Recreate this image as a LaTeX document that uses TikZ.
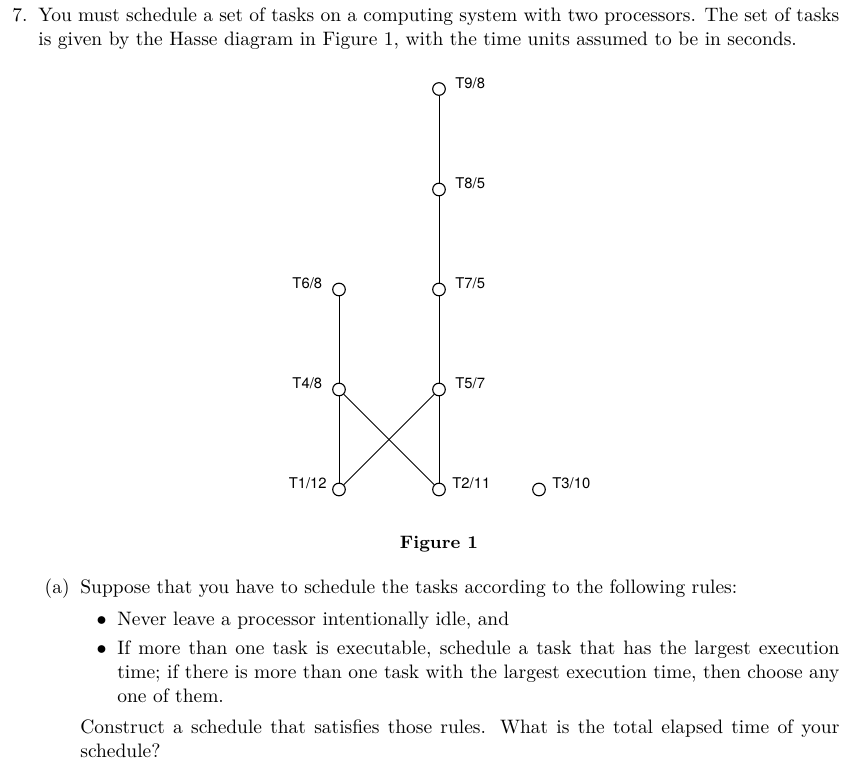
\documentclass[tikz,border=0pt]{standalone}
\usepackage{fontspec}
\newfontfamily\labfont{TeX Gyre Heros}
\begin{document}
\begin{tikzpicture}[x=0.5pt,y=-0.5pt,
  vert/.style={circle,draw,fill=white,inner sep=0pt,minimum size=6.3pt,line width=0.55pt},
  edge/.style={line width=0.5pt},
  lbl/.style={inner sep=0pt,font=\labfont\fontsize{7.4}{9}\selectfont},
  lblr/.style={lbl,anchor=base west},
  lbll/.style={lbl,anchor=base east},
  txt/.style={inner sep=0pt,anchor=base west,font=\fontsize{9.73}{12}\selectfont},
  txtl/.style={txt,anchor=base east}]
\useasboundingbox (0,0) rectangle (862,764);
% question text
\node[txtl] (n7) at (28,22) {7.};
\node[txt] (l1) at (38,22) {\makebox[400.5pt][s]{You must schedule a set of tasks on a computing system with two processors. The set of tasks}};
\node[txt] (l2) at (38,46) {is given by the Hasse diagram in Figure 1, with the time units assumed to be in seconds.};
% Hasse diagram
\node[vert] (t9) at (439,89) {};
\node[vert] (t8) at (439,189.5) {};
\node[vert] (t7) at (439,289.5) {};
\node[vert] (t6) at (339,289.5) {};
\node[vert] (t4) at (339,389.5) {};
\node[vert] (t5) at (439,389.5) {};
\node[vert] (t1) at (339,489.5) {};
\node[vert] (t2) at (439,489.5) {};
\node[vert] (t3) at (539,489.5) {};
\draw[edge] (t9) -- (t8);
\draw[edge] (t8) -- (t7);
\draw[edge] (t7) -- (t5);
\draw[edge] (t5) -- (t2);
\draw[edge] (t5) -- (t1);
\draw[edge] (t6) -- (t4);
\draw[edge] (t4) -- (t1);
\draw[edge] (t4) -- (t2);
\node[lblr] (l9) at (455,88.3) {T9/8};
\node[lblr] (l8) at (455,188.3) {T8/5};
\node[lblr] (l7) at (455,288.3) {T7/5};
\node[lbll] (l6) at (322.5,288.3) {T6/8};
\node[lbll] (l4) at (322.5,388.3) {T4/8};
\node[lblr] (l5) at (455,388.3) {T5/7};
\node[lbll] (l1b) at (327,488.3) {T1/12};
\node[lblr] (l2b) at (452,488.3) {T2/11};
\node[lblr] (l3) at (552,488.3) {T3/10};
\node[inner sep=0pt,anchor=base,font=\bfseries\fontsize{9}{11}\selectfont] (fig) at (439,548) {Figure 1};
% part (a)
\node[txtl] (na) at (70,593) {(a)};
\node[txt] (a1) at (80,593) {Suppose that you have to schedule the tasks according to the following rules:};
\node[txtl] (b1) at (107,625) {$\bullet$};
\node[txt] (i1) at (117,625) {Never leave a processor intentionally idle, and};
\node[txtl] (b2) at (107,654) {$\bullet$};
\node[txt] (i2) at (117,654) {\makebox[361pt][s]{If more than one task is executable, schedule a task that has the largest execution}};
\node[txt] (i3) at (117,678) {\makebox[361pt][s]{time; if there is more than one task with the largest execution time, then choose any}};
\node[txt] (i4) at (117,702) {one of them.};
\node[txt] (c1) at (80,733) {\makebox[379.5pt][s]{Construct a schedule that satisfies those rules.  What is the total elapsed time of your}};
\node[txt] (c2) at (80,757) {schedule?};
\end{tikzpicture}
\end{document}
